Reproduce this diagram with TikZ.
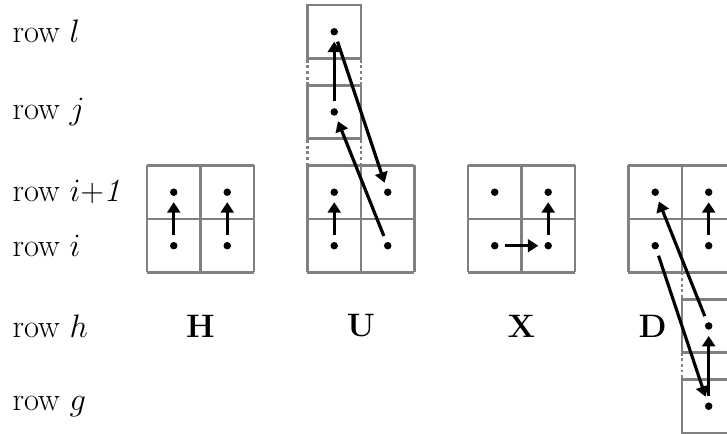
\documentclass[tikz,border=0pt]{standalone}
\usetikzlibrary{arrows.meta}
\begin{document}
\begin{tikzpicture}[x=1cm,y=1cm,
  cellgrid/.style={draw=gray, line width=1.5pt},
  gap/.style={draw=gray, line width=1.5pt, dash pattern=on 1.5pt off 1.5pt},
  pt/.style={circle, fill=black, inner sep=0pt, minimum size=0.14cm},
  conn/.style={-{Triangle[length=5.5pt,width=6.8pt]}, line width=1.7pt, shorten <=0.12cm, shorten >=0.11cm},
  lab/.style={anchor=west, font=\fontsize{17.28}{21}\selectfont, inner sep=0pt},
  kind/.style={font=\fontsize{17.28}{21}\selectfont\bfseries, inner sep=0pt}
]
\useasboundingbox (-2.748,-3.019) rectangle (10.842,5.093);
\clip (-2.748,-3.019) rectangle (10.842,5.093);

% row labels
\node[lab] (rl) at (-2.52,4.5) {row $l$};
\node[lab] (rj) at (-2.52,3.0) {row $j$};
\node[lab] (rp) at (-2.52,1.5) {row $i$+\textit{1}};
\node[lab] (ri) at (-2.52,0.5) {row $i$};
\node[lab] (rh) at (-2.52,-1.0) {row $h$};
\node[lab] (rg) at (-2.52,-2.5) {row $g$};

% kind letters
\node[kind] (kH) at (1.0,-1.0) {H};
\node[kind] (kU) at (4.0,-1.0) {U};
\node[kind] (kX) at (7.0,-1.0) {X};
\node[kind] (kD) at (9.45,-1.0) {D};

% grids
\draw[cellgrid] (0,0) grid (2,2);
\draw[cellgrid] (3,0) grid (5,2);
\draw[cellgrid] (3,2.5) rectangle (4,3.5);
\draw[cellgrid] (3,4) rectangle (4,5);
\draw[cellgrid] (6,0) grid (8,2);
\draw[cellgrid] (9,0) grid (11,2);
\draw[cellgrid] (10,-1.5) rectangle (11,-0.5);
\draw[cellgrid] (10,-3) rectangle (11,-2);

% dotted gaps
\draw[gap] (3,2) -- (3,2.5);
\draw[gap] (4,2) -- (4,2.5);
\draw[gap] (3,3.5) -- (3,4);
\draw[gap] (4,3.5) -- (4,4);
\draw[gap] (10,0) -- (10,-0.5);
\draw[gap] (11,0) -- (11,-0.5);
\draw[gap] (10,-1.5) -- (10,-2);
\draw[gap] (11,-1.5) -- (11,-2);

% dots
\node[pt] (Hai) at (0.5,0.5) {};
\node[pt] (Hap) at (0.5,1.5) {};
\node[pt] (Hbi) at (1.5,0.5) {};
\node[pt] (Hbp) at (1.5,1.5) {};

\node[pt] (Uai) at (3.5,0.5) {};
\node[pt] (Uap) at (3.5,1.5) {};
\node[pt] (Ubi) at (4.5,0.5) {};
\node[pt] (Ubp) at (4.5,1.5) {};
\node[pt] (Uj) at (3.5,3.0) {};
\node[pt] (Ul) at (3.5,4.5) {};

\node[pt] (Xai) at (6.5,0.5) {};
\node[pt] (Xap) at (6.5,1.5) {};
\node[pt] (Xbi) at (7.5,0.5) {};
\node[pt] (Xbp) at (7.5,1.5) {};

\node[pt] (Dai) at (9.5,0.5) {};
\node[pt] (Dap) at (9.5,1.5) {};
\node[pt] (Dbi) at (10.5,0.5) {};
\node[pt] (Dbp) at (10.5,1.5) {};
\node[pt] (Dh) at (10.5,-1.0) {};
\node[pt] (Dg) at (10.5,-2.5) {};

% connectors
\draw[conn] (Hai) -- (Hap);
\draw[conn] (Hbi) -- (Hbp);

\draw[conn] (Uai) -- (Uap);
\draw[conn] (Uj) -- (Ul);
\draw[conn] (Ubi) -- (Uj);
\draw[conn] (Ul) -- (Ubp);

\draw[conn] (Xai) -- (Xbi);
\draw[conn] (Xbi) -- (Xbp);

\draw[conn] (Dbi) -- (Dbp);
\draw[conn] (Dai) -- (Dg);
\draw[conn] (Dh) -- (Dap);
\draw[conn] (Dg) -- (Dh);
\end{tikzpicture}
\end{document}
